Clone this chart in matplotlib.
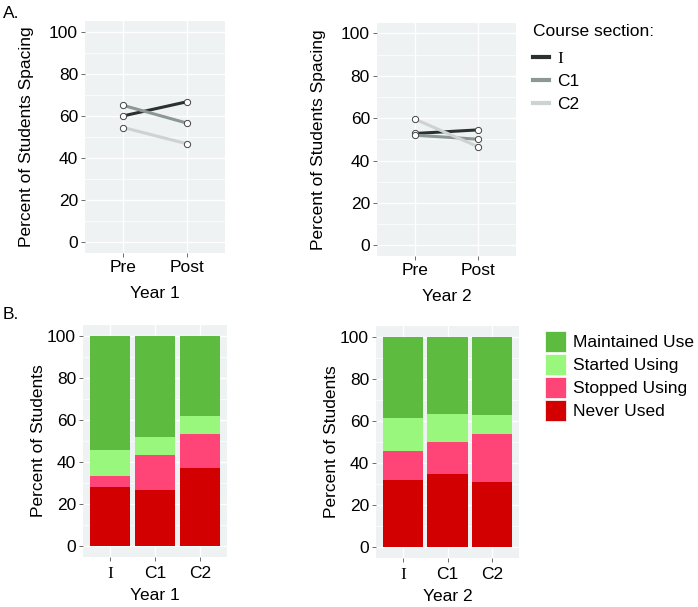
import numpy as np
import matplotlib
matplotlib.use('Agg')
import matplotlib.pyplot as plt
from matplotlib.lines import Line2D
from matplotlib.patches import Patch

plt.rcParams['font.family'] = ['Liberation Sans', 'DejaVu Sans']

# Dane - wykresy liniowe (procent studentów stosujących powtórki)
timepoints = ['Pre', 'Post']
sections = ['I', 'C1', 'C2']
spacing_year1 = [[60.0, 66.7], [65.0, 56.6], [54.5, 46.8]]
spacing_year2 = [[52.8, 54.5], [52.0, 50.1], [59.6, 46.6]]

# Dane - wykresy słupkowe (skumulowane)
use_categories = ['Never Used', 'Stopped Using', 'Started Using', 'Maintained Use']
year1_never = [28.3, 26.9, 37.0]
year1_stopped = [5.1, 16.6, 16.3]
year1_started = [12.3, 8.5, 8.7]
year1_maintained = [54.3, 48.0, 38.0]
year2_never = [31.9, 35.0, 31.2]
year2_stopped = [13.7, 15.1, 22.5]
year2_started = [15.6, 13.2, 9.3]
year2_maintained = [38.8, 36.7, 37.0]

line_colors = ['#2a3130', '#8e9797', '#cdd2d2']
bar_colors = ['#d20000', '#ff4477', '#98f77c', '#5dbb40']
panel_bg = '#eef2f2'
fs = 12.5

fig = plt.figure(figsize=(6.98, 6.07), dpi=100)

def style_axes(ax, pad=2):
    ax.set_facecolor(panel_bg)
    for s in ax.spines.values():
        s.set_visible(False)
    ax.set_ylim(-5, 105)
    ax.set_yticks(np.arange(0, 101, 20))
    ax.set_yticks(np.arange(10, 100, 20), minor=True)
    ax.grid(True, which='major', color='white', linewidth=1.0)
    ax.grid(True, which='minor', axis='y', color='white', linewidth=0.5)
    ax.tick_params(axis='both', which='major', labelsize=fs, length=3,
                   width=0.6, color='#555555', pad=2)
    ax.tick_params(axis='x', which='major', pad=pad)
    ax.tick_params(axis='y', which='minor', length=0)
    ax.set_axisbelow(True)

def serif_I(ax):
    for lab in ax.get_xticklabels():
        if lab.get_text() == 'I':
            lab.set_fontfamily('Liberation Serif')

# Panel A - linie
line_axes = [fig.add_axes([0.1218, 0.5832, 0.2006, 0.3822]),
             fig.add_axes([0.5400, 0.5783, 0.1990, 0.3840])]
for ax, data, yr in zip(line_axes, [spacing_year1, spacing_year2], ['Year 1', 'Year 2']):
    style_axes(ax)
    xs = np.arange(len(timepoints))
    for vals, c in zip(data, line_colors):
        ax.plot(xs, vals, color=c, linewidth=2.2, zorder=2)
    for vals in data:
        ax.plot(xs, vals, linestyle='none', marker='o', markersize=4.5,
                markerfacecolor='white', markeredgecolor='#444444',
                markeredgewidth=0.7, zorder=3)
    ax.set_xlim(-0.6, 1.6)
    ax.set_xticks(xs)
    ax.set_xticklabels(timepoints)
    ax.set_xlabel(yr, fontsize=fs, labelpad=8)
    ax.set_ylabel('Percent of Students Spacing', fontsize=fs, labelpad=11)

# Panel B - słupki
bar_axes = [fig.add_axes([0.1189, 0.0824, 0.2063, 0.3820]),
            fig.add_axes([0.5387, 0.0807, 0.2049, 0.3820])]
bar_data = [[year1_never, year1_stopped, year1_started, year1_maintained],
            [year2_never, year2_stopped, year2_started, year2_maintained]]
for ax, data, yr in zip(bar_axes, bar_data, ['Year 1', 'Year 2']):
    style_axes(ax, pad=3.5)
    xs = np.arange(len(sections))
    bottom = np.zeros(len(sections))
    for vals, c in zip(data, bar_colors):
        ax.bar(xs, vals, bottom=bottom, width=0.9, color=c, linewidth=0, zorder=2)
        bottom += np.array(vals)
    ax.set_xlim(-0.6, 2.6)
    ax.set_xticks(xs)
    ax.set_xticklabels(sections)
    serif_I(ax)
    ax.set_xlabel(yr, fontsize=fs, labelpad=4)
    ax.set_ylabel('Percent of Students', fontsize=fs, labelpad=1)

# Legenda A
line_handles = [Line2D([0], [0], color=c, linewidth=3) for c in line_colors]
leg_a = fig.legend(line_handles, sections, loc='upper left',
                   bbox_to_anchor=(0.764, 0.96), frameon=False, fontsize=fs,
                   title='Course section:', title_fontsize=fs,
                   handlelength=0.9, handletextpad=0.5, labelspacing=0.42,
                   borderaxespad=0, borderpad=0)
leg_a._legend_box.align = 'left'
leg_a._legend_box.sep = 0.42 * fs + 3
leg_a.get_texts()[0].set_fontfamily('Liberation Serif')

# Legenda B
patch_handles = [Patch(facecolor=c, edgecolor='white', linewidth=0.5)
                 for c in bar_colors[::-1]]
fig.legend(patch_handles, use_categories[::-1], loc='upper left',
           bbox_to_anchor=(0.781, 0.455), frameon=False, fontsize=fs,
           handlelength=1.2, handleheight=1.5, handletextpad=0.4,
           labelspacing=0.1, borderaxespad=0, borderpad=0)

fig.text(0.004, 0.99, 'A.', fontsize=fs, va='top', ha='left')
fig.text(0.004, 0.495, 'B.', fontsize=fs, va='top', ha='left')

fig.savefig('out.png', dpi=100)
